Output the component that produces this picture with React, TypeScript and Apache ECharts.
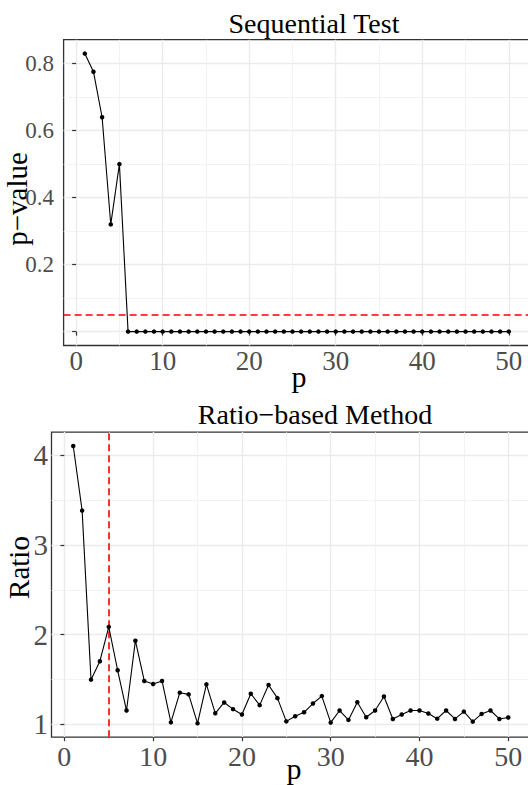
import React, { useEffect, useRef } from "react";
import * as echarts from "echarts";

// ---- data ----
const pValuesX = [
  1, 2, 3, 4, 5, 6, 7, 8, 9, 10, 11, 12, 13, 14, 15, 16, 17, 18, 19, 20, 21, 22, 23, 24, 25,
  26, 27, 28, 29, 30, 31, 32, 33, 34, 35, 36, 37, 38, 39, 40, 41, 42, 43, 44, 45, 46, 47, 48, 49, 50,
];

const sequentialPValues = [
  0.83, 0.776, 0.64, 0.32, 0.5, 0, 0, 0, 0, 0, 0, 0, 0, 0, 0, 0, 0, 0, 0, 0, 0, 0, 0, 0, 0,
  0, 0, 0, 0, 0, 0, 0, 0, 0, 0, 0, 0, 0, 0, 0, 0, 0, 0, 0, 0, 0, 0, 0, 0, 0,
];

const ratioValues = [
  4.105, 3.384, 1.498, 1.704, 2.087, 1.603, 1.154, 1.933, 1.484, 1.449,
  1.484, 1.022, 1.353, 1.334, 1.011, 1.446, 1.123, 1.244, 1.169, 1.109,
  1.341, 1.214, 1.438, 1.292, 1.033, 1.09, 1.134, 1.232, 1.315, 1.019,
  1.154, 1.049, 1.247, 1.079, 1.154, 1.311, 1.06, 1.109, 1.154, 1.154,
  1.12, 1.063, 1.154, 1.06, 1.142, 1.03, 1.116, 1.154, 1.06, 1.076,
];

const pValueThreshold = 0.05;
const selectedP = 5;

const xTicks = [0, 10, 20, 30, 40, 50];
const xLabels = ["0", "10", "20", "30", "40", "50"];
const seqYTicks = [0, 0.2, 0.4, 0.6, 0.8];
const seqYLabels = ["", "0.2", "0.4", "0.6", "0.8"];
const ratioYTicks = [1, 2, 3, 4];
const ratioYLabels = ["1", "2", "3", "4"];

const titles = ["Sequential Test", "Ratio\u2212based Method"];
const yNames = ["p\u2212value", "Ratio"];
const xName = "p";

// ---- helpers ----
const expand = (vals: number[]) => {
  const lo = Math.min(...vals);
  const hi = Math.max(...vals);
  const d = (hi - lo) * 0.05;
  return [lo - d, hi + d];
};

const FONT = "Liberation Serif";
const GRID_MAJOR = "#ebebeb";
const GRID_MINOR = "#f0f0f0";
const TICK_COLOR = "#4d4d4d";

const txt = (
  text: string,
  x: number,
  y: number,
  fontSize: number,
  fill: string,
  align: string,
  rotation = 0
) => ({
  type: "text",
  x,
  y,
  rotation,
  silent: true,
  style: { text, fontSize, fontFamily: FONT, fill, align, verticalAlign: "middle" },
});

export default function App() {
  const ref = useRef<HTMLDivElement>(null);

  useEffect(() => {
    document.body.style.margin = "0";
    if (!ref.current) return;
    const chart = echarts.init(ref.current, null, { renderer: "svg" });

    const xr = expand(pValuesX);
    const y1 = expand(sequentialPValues);
    const y2 = expand(ratioValues);

    const makeX = (gridIndex: number) => ({
      gridIndex,
      type: "value",
      min: xr[0],
      max: xr[1],
      minInterval: 10,
      maxInterval: 10,
      axisLine: { show: false },
      axisTick: {
        show: true,
        length: 4,
        customValues: xTicks,
        lineStyle: { color: "#333333", width: 1.2 },
      },
      axisLabel: { show: false },
      splitLine: { show: true, lineStyle: { color: GRID_MAJOR, width: 1.4 } },
      minorTick: { show: false, splitNumber: 2 },
      minorSplitLine: { show: true, lineStyle: { color: GRID_MINOR, width: 0.8 } },
    });

    const makeY = (gridIndex: number, range: number[], step: number, ticks: number[]) => ({
      gridIndex,
      type: "value",
      min: range[0],
      max: range[1],
      minInterval: step,
      maxInterval: step,
      axisLine: { show: false },
      axisTick: {
        show: true,
        length: 4,
        customValues: ticks,
        lineStyle: { color: "#333333", width: 1.2 },
      },
      axisLabel: { show: false },
      splitLine: { show: true, lineStyle: { color: GRID_MAJOR, width: 1.4 } },
      minorTick: { show: false, splitNumber: 2 },
      minorSplitLine: { show: true, lineStyle: { color: GRID_MINOR, width: 0.8 } },
    });

    const dashed = { color: "#ff0000", type: [7, 4], width: 1.6, opacity: 1 };

    const grids = [
      { left: 63.6, top: 39.7, width: 466.4, height: 305.8 },
      { left: 51.5, top: 432.1, width: 478.5, height: 305.1 },
    ];

    chart.setOption({
      animation: false,
      backgroundColor: "#ffffff",
      textStyle: { fontFamily: FONT },
      grid: grids.map((g) => ({
        ...g,
        show: true,
        borderColor: "#333333",
        borderWidth: 1.3,
        backgroundColor: "transparent",
        containLabel: false,
        outerBoundsMode: "none",
      })),
      xAxis: [makeX(0), makeX(1)],
      yAxis: [makeY(0, y1, 0.2, seqYTicks), makeY(1, y2, 1, ratioYTicks)],
      series: [
        {
          type: "line",
          xAxisIndex: 0,
          yAxisIndex: 0,
          data: pValuesX.map((p, i) => [p, sequentialPValues[i]]),
          symbol: "circle",
          symbolSize: 4.5,
          itemStyle: { color: "#000000" },
          lineStyle: { color: "#000000", width: 1.1 },
          z: 5,
          markLine: {
            silent: true,
            symbol: ["none", "none"],
            label: { show: false },
            lineStyle: dashed,
            emphasis: { disabled: true },
            data: [{ yAxis: pValueThreshold }],
          },
        },
        {
          type: "line",
          xAxisIndex: 1,
          yAxisIndex: 1,
          data: pValuesX.map((p, i) => [p, ratioValues[i]]),
          symbol: "circle",
          symbolSize: 4.5,
          itemStyle: { color: "#000000" },
          lineStyle: { color: "#000000", width: 1.1 },
          z: 5,
          markLine: {
            silent: true,
            symbol: ["none", "none"],
            label: { show: false },
            lineStyle: dashed,
            emphasis: { disabled: true },
            data: [{ xAxis: selectedP }],
          },
        },
      ],
    });

    // tick labels placed through the axes' own scales
    const labels: any[] = [];
    const f0 = { xAxisIndex: 0, yAxisIndex: 0 };
    const f1 = { xAxisIndex: 1, yAxisIndex: 1 };
    const bottom0 = grids[0].top + grids[0].height;
    const bottom1 = grids[1].top + grids[1].height;

    xTicks.forEach((v, i) => {
      const px0 = chart.convertToPixel(f0, [v, y1[0]]) as number[];
      labels.push(txt(xLabels[i], px0[0], bottom0 + 15.7, 27, TICK_COLOR, "center"));
      const px1 = chart.convertToPixel(f1, [v, y2[0]]) as number[];
      labels.push(txt(xLabels[i], px1[0], bottom1 + 19, 28, TICK_COLOR, "center"));
    });
    seqYTicks.forEach((v, i) => {
      if (!seqYLabels[i]) return;
      const px = chart.convertToPixel(f0, [xr[0], v]) as number[];
      labels.push(txt(seqYLabels[i], grids[0].left - 9.6, px[1], 23, TICK_COLOR, "right"));
    });
    ratioYTicks.forEach((v, i) => {
      const px = chart.convertToPixel(f1, [xr[0], v]) as number[];
      labels.push(txt(ratioYLabels[i], grids[1].left - 3.5, px[1], 29, TICK_COLOR, "right"));
    });

    chart.setOption({
      graphic: [
        txt(titles[0], 314, 23.2, 28, "#000000", "center"),
        txt(titles[1], 315, 414.2, 28, "#000000", "center"),
        txt(xName, 299, 376.7, 30, "#000000", "center"),
        txt(xName, 294, 768.5, 30, "#000000", "center"),
        txt(yNames[0], 17, 199, 29, "#000000", "center", Math.PI / 2),
        txt(yNames[1], 19, 567.5, 29, "#000000", "center", Math.PI / 2),
        ...labels,
      ],
    });

    return () => {
      chart.dispose();
    };
  }, []);

  return <div ref={ref} style={{ width: 528, height: 785 }} />;
}
